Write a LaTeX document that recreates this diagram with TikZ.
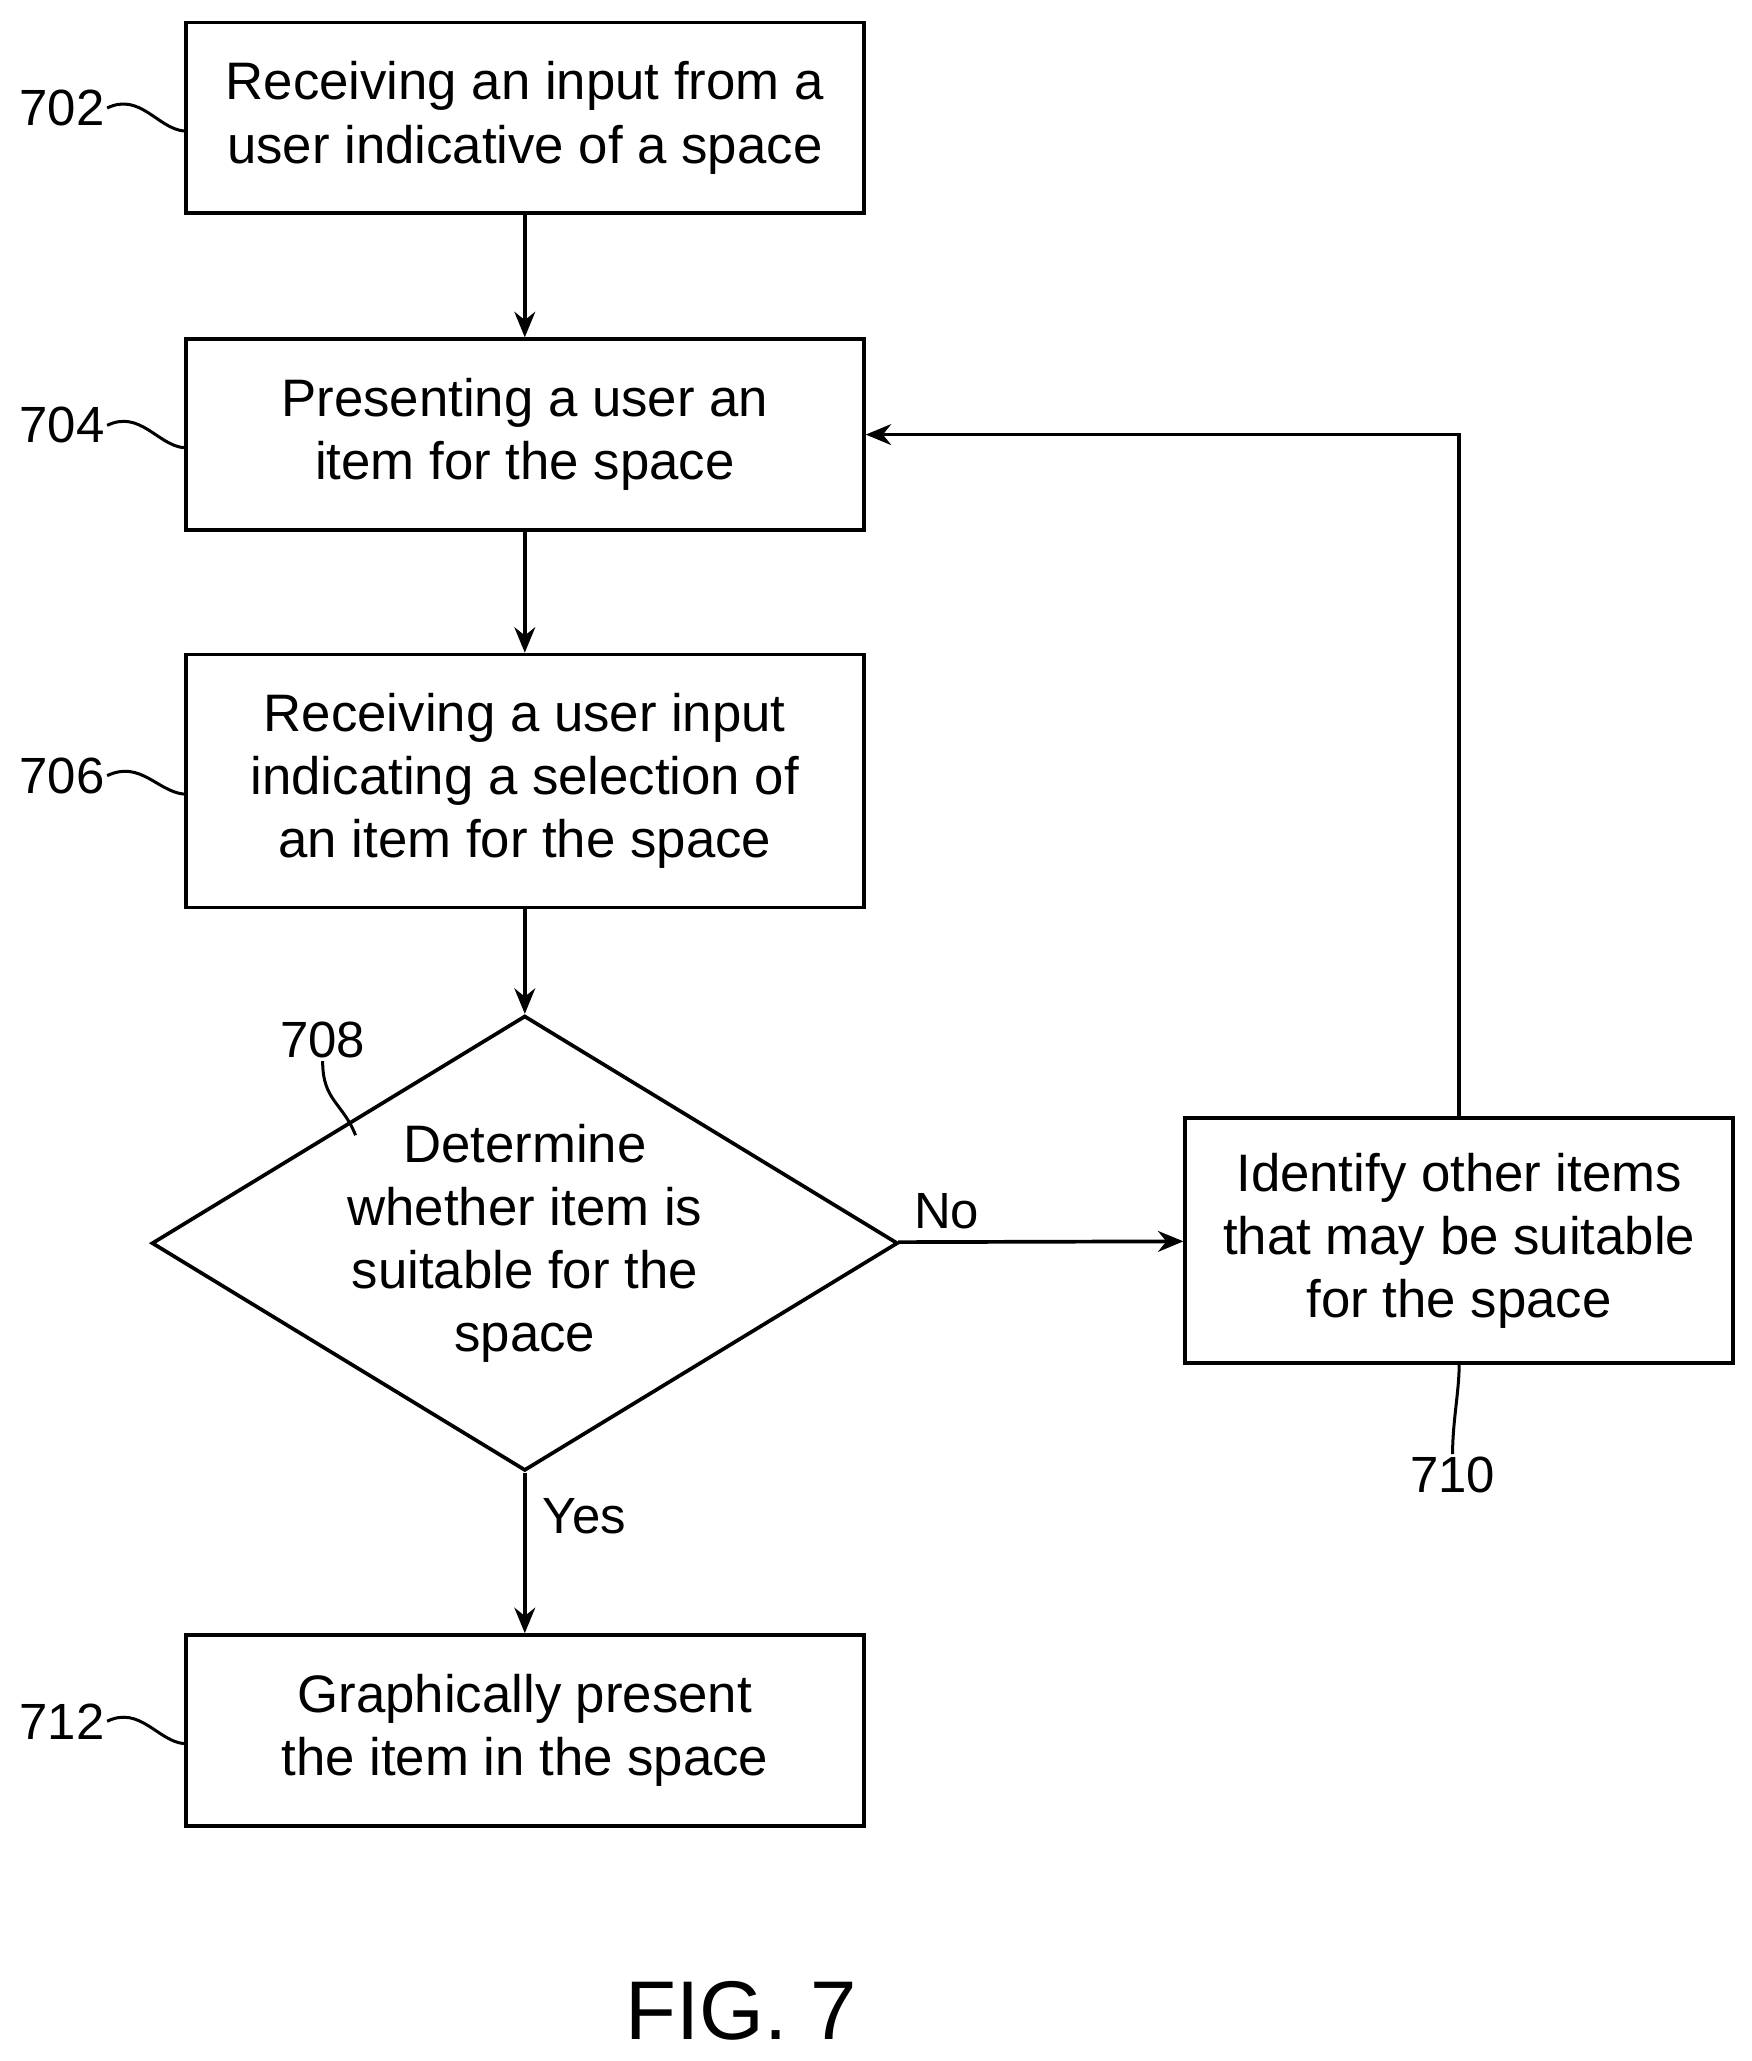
\documentclass[tikz,border=0pt]{standalone}
\usepackage{fontspec}
\setmainfont{Liberation Sans}
\usetikzlibrary{shapes.geometric,arrows.meta}
\tikzset{
  stepbox/.style={draw, line width=1.6pt, minimum width=10.3cm, align=center, font=\fontsize{22.8}{27.3}\selectfont},
  ref/.style={font=\fontsize{22}{25}\selectfont, inner sep=1pt},
  flow/.style={line width=1.6pt, -{Stealth[length=11pt,width=9pt]}},
  lead/.style={line width=1.3pt},
}
\begin{document}
\begin{tikzpicture}[x=0.02cm, y=-0.02cm]
        \useasboundingbox (0,0) rectangle (1330,1565);

        \node[stepbox, minimum height=2.9cm] (b702) at (398.5, 89.5) {Receiving an input from a\\user indicative of a space};
        \node[stepbox, minimum height=2.9cm] (b704) at (398.5, 330) {Presenting a user an\\item for the space};
        \node[stepbox, minimum height=3.84cm] (b706) at (398.5, 593) {Receiving a user input\\indicating a selection of\\an item for the space};
        \node[draw, diamond, aspect=1.64, line width=1.6pt, minimum width=10.26cm, minimum height=6.24cm, inner sep=0pt, align=center, font=\fontsize{22.8}{27.3}\selectfont] (d708) at (398.5, 944) {Determine\\whether item is\\suitable for the\\space};
        \node[stepbox, minimum width=8.32cm, minimum height=3.72cm] (b710) at (1108, 942) {Identify other items\\that may be suitable\\for the space};
        \node[stepbox, minimum height=2.9cm] (b712) at (398.5, 1314) {Graphically present\\the item in the space};

        \draw[flow] (b702) -- (b704);
        \draw[flow] (b704) -- (b706);
        \draw[flow] (b706) -- (d708);
        \draw[flow] (d708) -- node[ref, above, pos=0.17, yshift=4pt]{No} (b710);
        \draw[flow] (d708) -- node[ref, right, pos=0.27, xshift=6pt]{Yes} (b712);
        \draw[flow] (b710.north) |- (b704.east);

        % reference numerals
        \node[ref] (l702) at (47, 82) {702};
        \node[ref] (l704) at (47, 323) {704};
        \node[ref] (l706) at (47, 589) {706};
        \node[ref] (l712) at (47, 1307) {712};
        \node[ref] (l708) at (245, 790) {708};
        \node[ref] (l710) at (1103, 1120) {710};

        \foreach \n in {702,704,706,712}
          \draw[lead] (l\n.east) .. controls +(25,-12) and +(-20,-2) .. ([yshift=-0.2cm]b\n.west);
        \draw[lead] (l708.south) .. controls +(0,30) and +(-10,-25) .. (270,862);
        \draw[lead] (l710.north) .. controls +(0,-25) and +(0,20) .. (b710.south);

        \node[font=\fontsize{36}{40}\selectfont] (fig) at (563, 1527) {FIG. 7};
\end{tikzpicture}
\end{document}
